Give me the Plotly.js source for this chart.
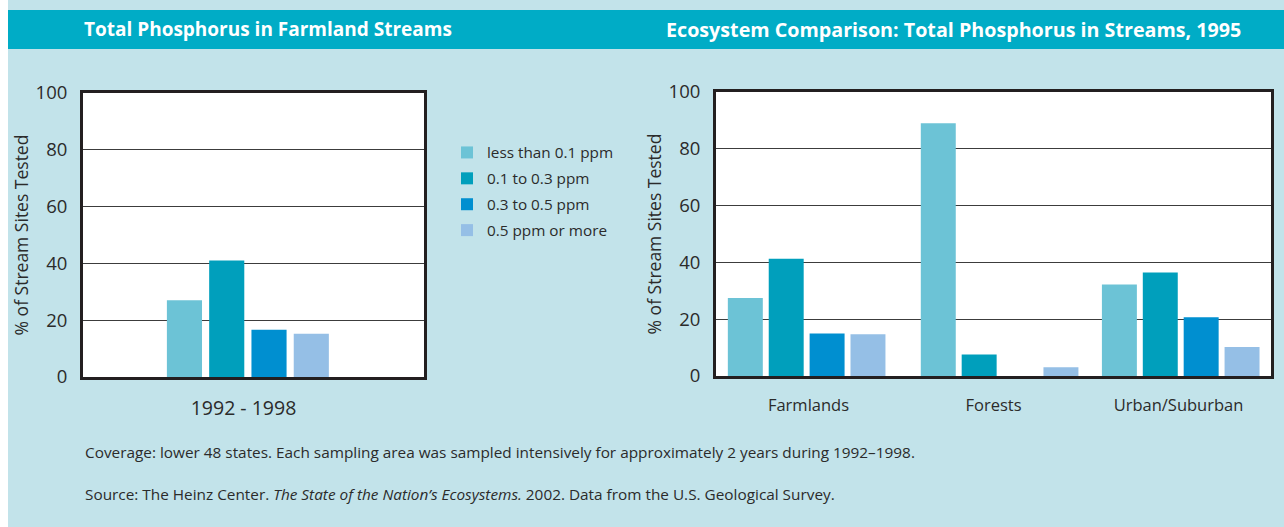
<!DOCTYPE html>
<html>
<head>
<meta charset="utf-8">
<script src="https://cdn.plot.ly/plotly-3.0.1.min.js"></script>
<style>html,body{margin:0;padding:0;background:#fff;}#chart{width:1284px;height:527px;}</style>
</head>
<body>
<div id="chart"></div>
<script>
// ---- data ----
const seriesNames = ['less than 0.1 ppm', '0.1 to 0.3 ppm', '0.3 to 0.5 ppm', '0.5 ppm or more'];
const farmPeriod = ['1992 - 1998'];
const farmLessThan01 = [27];
const farm01to03 = [41];
const farm03to05 = [16.6];
const farm05plus = [15.2];

const ecosystems = ['Farmlands', 'Forests', 'Urban/Suburban'];
const ecoLessThan01 = [27.5, 89, 32.2];
const eco01to03 = [41.3, 7.6, 36.4];
const eco03to05 = [15, 0, 20.7];
const eco05plus = [14.7, 3.1, 10.2];

const leftTitle = 'Total Phosphorus in Farmland Streams';
const rightTitle = 'Ecosystem Comparison: Total Phosphorus in Streams, 1995';
const yTitle = '% of Stream Sites Tested';
const noteCoverage = 'Coverage: lower 48 states. Each sampling area was sampled intensively for approximately 2 years during 1992–1998.';
const noteSource = 'Source: The Heinz Center. <i>The State of the Nation’s Ecosystems.</i> 2002. Data from the U.S. Geological Survey.';

// ---- styles ----
const colors = ['#6cc3d6', '#009fbc', '#008fd0', '#95bfe6'];
const W = 1284, H = 527;
const px = v => v / W;
const py = v => 1 - v / H;
const FONT = 'Open Sans, Noto Sans, sans-serif';
const TXT = '#2b2b2b';

const leftVals = [farmLessThan01, farm01to03, farm03to05, farm05plus];
const rightVals = [ecoLessThan01, eco01to03, eco03to05, eco05plus];

const traces = [];
const lStart = -0.254, lSlot = 0.124, lWidth = 0.103;
leftVals.forEach((vals, i) => {
  traces.push({
    type: 'bar', x: farmPeriod, y: vals, name: seriesNames[i],
    xaxis: 'x', yaxis: 'y', marker: {color: colors[i], line: {width: 0}},
    offset: lStart + i * lSlot, width: lWidth,
    legendgroup: 'g' + i, showlegend: true, hoverinfo: 'y+name'
  });
});
// group start offset per category (style: small positional nudges)
const rStarts = [-0.436, -0.393, -0.414], rSlot = 0.221, rWidth = 0.189;
rightVals.forEach((vals, i) => {
  traces.push({
    type: 'bar', x: ecosystems, y: vals, name: seriesNames[i],
    xaxis: 'x2', yaxis: 'y2', marker: {color: colors[i], line: {width: 0}},
    offset: rStarts.map(s => s + i * rSlot), width: rWidth,
    legendgroup: 'g' + i, showlegend: false, hoverinfo: 'y+name'
  });
});

const yaxisBase = {
  range: [0, 100], dtick: 20, tick0: 0, fixedrange: true,
  showgrid: true, gridcolor: '#3c3c3c', gridwidth: 1.4,
  showline: true, mirror: true, linecolor: '#231f20', linewidth: 3,
  zeroline: false, ticks: '', ticklabelstandoff: 9,
  tickfont: {family: FONT, size: 18.5, color: TXT},
  title: {text: yTitle, font: {family: FONT, size: 17.5, color: TXT}, standoff: 3}
};
const xaxisBase = {
  type: 'category', fixedrange: true,
  showline: true, mirror: true, linecolor: '#231f20', linewidth: 3,
  showgrid: false, zeroline: false, ticks: '',
  tickfont: {family: FONT, size: 16.5, color: TXT}
};

const layout = {
  width: W, height: H,
  margin: {l: 0, r: 0, t: 0, b: 0, pad: 0},
  paper_bgcolor: '#c2e3ea',
  plot_bgcolor: '#ffffff',
  barmode: 'overlay',
  font: {family: FONT, color: TXT},
  showlegend: true,
  legend: {
    x: px(447), y: py(136), xanchor: 'left', yanchor: 'top',
    bgcolor: 'rgba(0,0,0,0)', borderwidth: 0,
    font: {family: FONT, size: 15.3, color: TXT},
    tracegroupgap: 3, traceorder: 'grouped', itemclick: false, itemdoubleclick: false
  },
  xaxis: Object.assign({}, xaxisBase, {domain: [px(83), px(424)], range: [-0.5, 0.5], anchor: 'y', ticklabelstandoff: 12, ticklabelshift: -10,
    tickfont: {family: FONT, size: 19.5, color: TXT}}),
  yaxis: Object.assign({}, yaxisBase, {domain: [py(377), py(93)], anchor: 'x'}),
  xaxis2: Object.assign({}, xaxisBase, {domain: [px(716), px(1271)], range: [-0.5, 2.5], anchor: 'y2', ticklabelstandoff: 12}),
  yaxis2: Object.assign({}, yaxisBase, {domain: [py(376), py(92)], anchor: 'x2'}),
  shapes: [
    {type: 'rect', xref: 'paper', yref: 'paper', x0: 0, x1: px(8), y0: 0, y1: 1, fillcolor: '#ffffff', line: {width: 0}, layer: 'below'},
    {type: 'rect', xref: 'paper', yref: 'paper', x0: px(8), x1: 1, y0: py(49), y1: py(10), fillcolor: '#00acc6', line: {width: 0}, layer: 'below'}
  ],
  annotations: [
    {text: '<b>' + leftTitle + '</b>', xref: 'paper', yref: 'paper', x: px(82), y: py(29), xanchor: 'left', yanchor: 'middle', showarrow: false, font: {family: FONT, size: 19, color: '#ffffff'}},
    {text: '<b>' + rightTitle + '</b>', xref: 'paper', yref: 'paper', x: px(1243), y: py(29), xanchor: 'right', yanchor: 'middle', showarrow: false, font: {family: FONT, size: 19.7, color: '#ffffff'}},
    {text: noteCoverage, xref: 'paper', yref: 'paper', x: px(83), y: py(452), xanchor: 'left', yanchor: 'middle', showarrow: false, font: {family: FONT, size: 15.35, color: TXT}},
    {text: noteSource, xref: 'paper', yref: 'paper', x: px(83), y: py(494), xanchor: 'left', yanchor: 'middle', showarrow: false, font: {family: FONT, size: 15.35, color: TXT}}
  ]
};

Plotly.newPlot('chart', traces, layout, {displayModeBar: false, responsive: false});
</script>
</body>
</html>
